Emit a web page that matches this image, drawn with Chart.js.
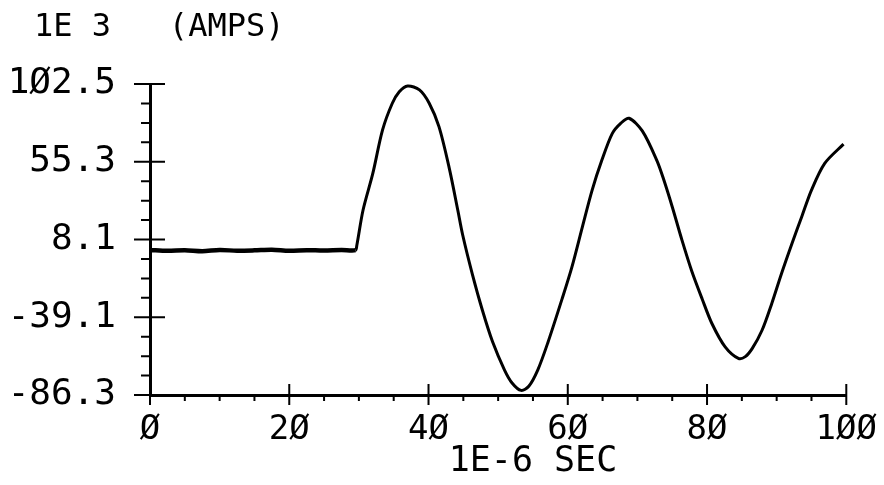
<!DOCTYPE html>
<html>
<head>
<meta charset="utf-8">
<script src="https://cdn.jsdelivr.net/npm/chart.js@4.4.1/dist/chart.umd.min.js"></script>
<style>
  html, body { margin: 0; padding: 0; background: #fff; }
  #wrap { width: 884px; height: 485px; }
</style>
</head>
<body>
<div id="wrap"><canvas id="current-chart" width="884" height="485"></canvas></div>
<script>
/* Data (time in 1E-6 s, current in 1E3 A) */
let timeUs = [0, 2.5, 5, 7.5, 10, 12.5, 15, 17.5, 20, 22.5, 25, 27.5, 29.5, 29.7,
    30.6, 32.0, 33.4, 34.8, 35.8, 37.0, 38.7, 40.1, 41.5, 43.0, 44.2, 44.9, 46.3, 47.75, 49.2, 50.9,
    52.0, 53.3, 54.4, 55.7, 57.1, 59.2, 60.6, 62.1, 63.5, 64.9, 66.4, 67.6, 68.8, 70.7, 72.8, 73.8,
    75.0, 76.4, 77.8, 79.3, 80.7, 82.6, 84.5, 85.5, 86.5, 87.9, 89.3, 90.7, 92.2, 93.6, 95.0,
    96.9, 99.6]
let currentKA = [1.8, 1.2, 1.6, 1.0, 1.7, 1.3, 1.5, 1.9, 1.2, 1.6, 1.4, 1.8, 1.6, 4.5,
    26.0, 48.2, 74.6, 90.8, 97.8, 101.3, 98.9, 90.8, 76.6, 51.0, 26.0, 11.0, -13.0, -35.0, -54.0, -71.0,
    -79.0, -83.5, -81.0, -71.0, -55.0, -27.7, -8.5, 15.8, 38.1, 56.3, 72.5, 78.6, 81.7, 74.0, 56.0, 44.2,
    28.0, 7.7, -11.0, -28.0, -42.9, -57.1, -64.1, -63.0, -58.0, -47.0, -30.7, -12.5, 5.7, 21.9, 38.1,
    54.3, 66.0]

/* Axis ticks */
let xTicks = [0, 20, 40, 60, 80, 100]
let yTicks = [-86.3, -39.1, 8.1, 55.3, 102.5]

let plotFont = 'DejaVu Sans Mono'

// plotter style zeros
function slashZero(text) {
    return text.replace(/0/g, '\u00D8')
}

// minor ticks: 4 divisions between each pair of major ticks
function minorTicks(majors) {
    let out = []
    for (let i = 0; i < majors.length - 1; i++) {
        let step = (majors[i + 1] - majors[i]) / 4
        for (let k = 1; k < 4; k++) out.push(majors[i] + step * k)
    }
    return out
}

// draws the crossing major ticks, minor ticks and the unit labels
let plotterTicks = {
    id: 'plotterTicks',
    afterDraw(chart) {
        let ctx = chart.ctx
        let xs = chart.scales.x
        let ys = chart.scales.y
        let x0 = xs.left
        let y0 = ys.bottom
        ctx.save()
        ctx.strokeStyle = '#000'
        ctx.lineWidth = 2
        ctx.beginPath()
        xTicks.forEach(v => {
            let px = xs.getPixelForValue(v)
            ctx.moveTo(px, y0 - 11)
            ctx.lineTo(px, y0 + 10)
        })
        minorTicks(xTicks).forEach(v => {
            let px = xs.getPixelForValue(v)
            ctx.moveTo(px, y0)
            ctx.lineTo(px, y0 + 6)
        })
        yTicks.forEach(v => {
            let py = ys.getPixelForValue(v)
            ctx.moveTo(x0 - 16, py)
            ctx.lineTo(x0 + 15, py)
        })
        minorTicks(yTicks).forEach(v => {
            let py = ys.getPixelForValue(v)
            ctx.moveTo(x0 - 9, py)
            ctx.lineTo(x0, py)
        })
        ctx.stroke()

        ctx.fillStyle = '#000'
        ctx.textBaseline = 'middle'
        ctx.textAlign = 'left'
        ctx.font = '32px "' + plotFont + '"'
        ctx.fillText('1E 3   (AMPS)', 34, 28)
        // x axis unit, sits right of centre in the original
        ctx.textAlign = 'center'
        ctx.font = '35px "' + plotFont + '"'
        ctx.fillText('1E-6 SEC', xs.getPixelForValue(55), 462)
        ctx.restore()
    }
}

let ctx = document.querySelector('#current-chart').getContext('2d')

let currentChart = new Chart(ctx, {
    type: 'line',
    data: {
        datasets: [
            {
                data: timeUs.map((t, i) => ({ x: t, y: currentKA[i] })),
                borderColor: '#000',
                borderWidth: 3,
                pointRadius: 0,
                tension: 0.3,
                fill: false,
                // the flat pre-trigger trace is drawn heavier in the original
                segment: {
                    borderWidth: c => c.p1.parsed.x <= 29.5 ? 4.5 : 3
                }
            }
        ]
    },
    options: {
        responsive: false,
        animation: false,
        layout: { padding: { top: 84, right: 36, left: 0, bottom: 0 } },
        plugins: {
            legend: { display: false },
            tooltip: { enabled: false }
        },
        scales: {
            x: {
                type: 'linear',
                min: 0,
                max: 100,
                afterBuildTicks: scale => { scale.ticks = xTicks.map(v => ({ value: v })) },
                ticks: {
                    color: '#000',
                    font: { family: plotFont, size: 34 },
                    padding: 7,
                    maxRotation: 0,
                    callback: v => slashZero(String(v))
                },
                grid: { display: false },
                border: { display: true, color: '#000', width: 3 },
                afterFit: scale => { scale.height = 90 }
            },
            y: {
                type: 'linear',
                min: -86.3,
                max: 102.5,
                afterBuildTicks: scale => { scale.ticks = yTicks.map(v => ({ value: v })) },
                ticks: {
                    color: '#000',
                    font: { family: plotFont, size: 36 },
                    padding: 26,
                    callback: v => slashZero(v.toFixed(1))
                },
                grid: { display: false },
                border: { display: true, color: '#000', width: 3 },
                afterFit: scale => { scale.width = 150 }
            }
        }
    },
    plugins: [plotterTicks]
})
</script>
</body>
</html>
